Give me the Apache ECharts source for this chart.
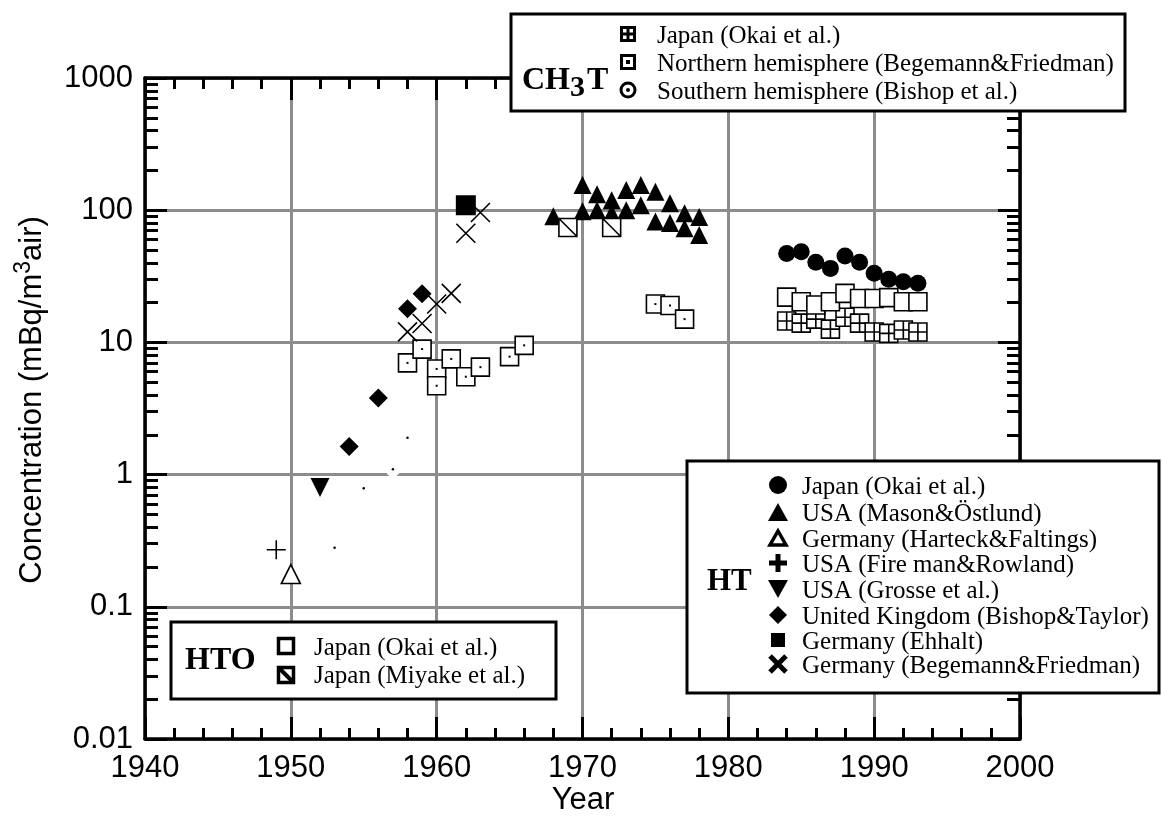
<!DOCTYPE html>
<html><head><meta charset="utf-8">
<script src="https://cdn.jsdelivr.net/npm/echarts@6/dist/echarts.min.js"></script>
<style>html,body{margin:0;padding:0;background:#fff}#c{width:1162px;height:823px}</style>
</head><body><div id="c"></div>
<script>
// ---- data (year, mBq/m3 air) ----
const yTickLabels = ['0.01', '0.1', '1', '10', '100', '1000'];
const ch3tJapanOkai = [[1984,14.5],[1985,14],[1986,15],[1987,12.6],[1988,15.5],[1989,14],[1990,12],[1991,11.7],[1992,12.4],[1993,12]];
const ch3tNorthern = [[1958,7.0],[1959,8.9],[1960,6.3],[1960,4.7],[1961,7.5],[1962,5.5],[1963,6.5],[1965,7.8],[1966,9.5],[1975,19.5],[1976,19],[1977,15]];
const ch3tSouthern = [[1953,0.28],[1955,0.79],[1957,1.1],[1958,1.9]];
const htoJapanOkai = [[1984,22],[1985,20.3],[1986,19.2],[1987,20.3],[1988,23.5],[1989,21.5],[1990,21.5],[1991,21.8],[1992,20.3],[1993,20.3]];
const htoJapanMiyake = [[1969,74],[1972,74]];
const htJapanOkai = [[1984,47],[1985,48.5],[1986,40.4],[1987,36.3],[1988,45],[1989,40.4],[1990,33.4],[1991,30],[1992,28.8],[1993,28]];
const htUsaMason = [[1968,90],[1970,155],[1970,98],[1971,132],[1971,100],[1972,119],[1972,95],[1973,142],[1973,100],[1974,155],[1974,109],[1975,138],[1975,82],[1976,113],[1976,80],[1977,95],[1977,73],[1978,89],[1978,65]];
const htGermanyHarteck = [[1950,0.177]];
const htUsaFireman = [[1949,0.27]];
const htUsaGrosse = [[1952,0.8]];
const htUkBishop = [[1954,1.63],[1956,3.8],[1958,18],[1959,23.3]];
const htGermanyEhhalt = [[1962,109]];
const htGermanyBegemann = [[1958,12],[1959,13.9],[1960,19.5],[1961,23.5],[1962,67],[1963,96]];

const minorLog = [];
for (let k = -2; k <= 2; k++) for (let m = 2; m <= 9; m++) minorLog.push(Math.log10(m * Math.pow(10, k)));

const SANS = '"Liberation Sans", Arial, sans-serif';
const SERIF = '"Liberation Serif", "Times New Roman", serif';

const P_CROSSSQ = 'path://M0,0L20,0L20,20L0,20Z M10,0L10,20 M0,10L20,10';
const P_DIAGSQ = 'path://M0,0L20,0L20,20L0,20Z M0,0L20,20';
const P_X = 'path://M0,0L20,20 M20,0L0,20';
const P_PLUS = 'path://M10,0L10,20 M0,10L20,10';

const tickStyle = {color: '#000', width: 3};
const gridStyle = {color: '#8c8c8c', width: 3};

function xAx(pos, labels) {
  return {
    type: 'value', position: pos, min: 1940, max: 2000, interval: 10,
    axisLine: {show: true, onZero: false, lineStyle: {color: '#000', width: 3.5}},
    axisTick: {show: true, inside: true, length: 22, lineStyle: tickStyle},
    minorTick: {show: true, splitNumber: 5, length: 11, lineStyle: tickStyle},
    axisLabel: {show: labels, fontFamily: SANS, fontSize: 31, color: '#000', margin: 14, formatter: v => String(v)},
    splitLine: {show: labels, lineStyle: gridStyle},
    minorSplitLine: {show: false}
  };
}
function yLog(pos, labels) {
  return {
    type: 'log', logBase: 10, position: pos, min: 0.01, max: 1000,
    axisLine: {show: true, onZero: false, lineStyle: {color: '#000', width: 3.5}},
    axisTick: {show: true, inside: true, length: 22, lineStyle: tickStyle},
    axisLabel: {show: labels, fontFamily: SANS, fontSize: 31, color: '#000', margin: 12,
      formatter: v => { const i = Math.round(Math.log10(v)) + 2; return yTickLabels[i] || ''; }},
    splitLine: {show: labels, lineStyle: gridStyle}
  };
}
function yMinor(pos) {
  return {
    type: 'value', position: pos, min: -2, max: 3,
    axisLine: {show: false, onZero: false},
    axisTick: {show: true, inside: true, length: 13, lineStyle: tickStyle, customValues: minorLog},
    axisLabel: {show: false}, splitLine: {show: false}
  };
}

const series = [
  {name: 'south-bg', type: 'scatter', data: ch3tSouthern, symbol: 'circle', symbolSize: 15, itemStyle: {color: '#fff', borderWidth: 0}},
  {name: 'south-dot', type: 'scatter', data: ch3tSouthern, symbol: 'circle', symbolSize: 2.5, itemStyle: {color: '#000'}},
  {name: 'ch3tJapan', type: 'scatter', data: ch3tJapanOkai, symbol: P_CROSSSQ, symbolSize: 18, itemStyle: {color: '#fff', borderColor: '#000', borderWidth: 1.6}},
  {name: 'htoOkai', type: 'scatter', data: htoJapanOkai, symbol: 'rect', symbolSize: 18, itemStyle: {color: '#fff', borderColor: '#000', borderWidth: 1.6}},
  {name: 'north', type: 'scatter', data: ch3tNorthern, symbol: 'rect', symbolSize: 18, itemStyle: {color: '#fff', borderColor: '#000', borderWidth: 1.6}},
  {name: 'north-dot', type: 'scatter', data: ch3tNorthern, symbol: 'rect', symbolSize: 2, itemStyle: {color: '#000'}},
  {name: 'htJapan', type: 'scatter', data: htJapanOkai, symbol: 'circle', symbolSize: 17, itemStyle: {color: '#000'}},
  {name: 'mason', type: 'scatter', data: htUsaMason, symbol: 'triangle', symbolSize: 18, itemStyle: {color: '#000'}},
  {name: 'miyake', type: 'scatter', data: htoJapanMiyake, symbol: P_DIAGSQ, symbolSize: 18, itemStyle: {color: '#fff', borderColor: '#000', borderWidth: 1.6}},
  {name: 'harteck', type: 'scatter', data: htGermanyHarteck, symbol: 'triangle', symbolSize: 19, itemStyle: {color: '#fff', borderColor: '#000', borderWidth: 1.6}},
  {name: 'fireman', type: 'scatter', data: htUsaFireman, symbol: P_PLUS, symbolSize: 19, itemStyle: {color: 'rgba(0,0,0,0)', borderColor: '#000', borderWidth: 1.6}},
  {name: 'grosse', type: 'scatter', data: htUsaGrosse, symbol: 'triangle', symbolRotate: 180, symbolSize: 19, itemStyle: {color: '#000'}},
  {name: 'uk', type: 'scatter', data: htUkBishop, symbol: 'diamond', symbolSize: 19, itemStyle: {color: '#000'}},
  {name: 'ehhalt', type: 'scatter', data: htGermanyEhhalt, symbol: 'rect', symbolSize: 20, itemStyle: {color: '#000'}},
  {name: 'begemann', type: 'scatter', data: htGermanyBegemann, symbol: P_X, symbolSize: 19, itemStyle: {color: 'rgba(0,0,0,0)', borderColor: '#000', borderWidth: 1.6}}
].map(s => {
  s.itemStyle.opacity = 1;
  return Object.assign({xAxisIndex: 0, yAxisIndex: 0, silent: true, animation: false, emphasis: {disabled: true}}, s);
});

// ---- legend graphics ----
const G = [];
const Z = 100;
function box(x, y, w, h) { G.push({type: 'rect', z: Z, shape: {x, y, width: w, height: h}, style: {fill: '#fff', stroke: '#000', lineWidth: 3}}); }
function txt(x, y, t, size, bold) { G.push({type: 'text', z: Z + 1, style: {x, y, text: t, fontFamily: SERIF, fontSize: size, fontWeight: bold ? 'bold' : 'normal', fill: '#000', verticalAlign: 'middle', align: 'left'}}); }
function line(x1, y1, x2, y2, w) { G.push({type: 'line', z: Z + 1, shape: {x1, y1, x2, y2}, style: {stroke: '#000', lineWidth: w}}); }
function rectI(cx, cy, s, fill, lw) { G.push({type: 'rect', z: Z + 1, shape: {x: cx - s / 2, y: cy - s / 2, width: s, height: s}, style: {fill: fill, stroke: lw ? '#000' : null, lineWidth: lw || 0}}); }
function circ(cx, cy, r, fill, lw) { G.push({type: 'circle', z: Z + 1, shape: {cx, cy, r}, style: {fill: fill, stroke: lw ? '#000' : null, lineWidth: lw || 0}}); }
function poly(pts, fill, lw) { G.push({type: 'polygon', z: Z + 1, shape: {points: pts}, style: {fill: fill, stroke: lw ? '#000' : null, lineWidth: lw || 0, lineJoin: 'miter'}}); }

// CH3T box
box(511, 14, 614, 97);
txt(522, 81, 'CH', 32, true);
txt(570, 88, '3', 30, true);
txt(587, 81, 'T', 32, true);
rectI(628, 34, 13, '#fff', 3); line(628, 28, 628, 40, 3); line(622, 34, 634, 34, 3);
rectI(628, 62, 13, '#fff', 3); rectI(628, 62, 4, '#000', 0);
circ(628, 90, 7, '#fff', 3); circ(628, 90, 2, '#000', 0);
txt(657, 36, 'Japan (Okai et al.)', 25);
txt(657, 64, 'Northern hemisphere (Begemann&Friedman)', 25);
txt(657, 92, 'Southern hemisphere (Bishop et al.)', 25);

// HT box
box(687, 461, 472, 232);
txt(707, 582, 'HT', 31, true);
const hx = 778;
const hy = [485, 512, 538, 563, 589, 615, 640, 664];
circ(hx, hy[0], 9, '#000', 0);
poly([[hx - 10, hy[1] + 9], [hx + 10, hy[1] + 9], [hx, hy[1] - 9]], '#000', 0);
poly([[hx - 8, hy[2] + 7], [hx + 8, hy[2] + 7], [hx, hy[2] - 7]], '#fff', 3.5);
line(hx - 9, hy[3], hx + 9, hy[3], 5); line(hx, hy[3] - 9, hx, hy[3] + 9, 5);
poly([[hx - 10, hy[4] - 9], [hx + 10, hy[4] - 9], [hx, hy[4] + 9]], '#000', 0);
poly([[hx - 9, hy[5]], [hx, hy[5] - 9], [hx + 9, hy[5]], [hx, hy[5] + 9]], '#000', 0);
rectI(hx, hy[6], 14, '#000', 0);
line(hx - 8, hy[7] - 8, hx + 8, hy[7] + 8, 5); line(hx - 8, hy[7] + 8, hx + 8, hy[7] - 8, 5);
const htNames = ['Japan (Okai et al.)', 'USA (Mason&Östlund)', 'Germany (Harteck&Faltings)', 'USA (Fire man&Rowland)', 'USA (Grosse et al.)', 'United Kingdom (Bishop&Taylor)', 'Germany (Ehhalt)', 'Germany (Begemann&Friedman)'];
htNames.forEach((n, i) => txt(802, hy[i] + 2, n, 25));

// HTO box
box(171, 622, 385, 77);
txt(185, 661, 'HTO', 32, true);
rectI(286, 646, 15, '#fff', 3.5);
rectI(286, 675, 15, '#fff', 3.5); line(279, 668, 293, 682, 4);
txt(314, 648, 'Japan (Okai et al.)', 25);
txt(314, 676, 'Japan (Miyake et al.)', 25);

// axis titles
G.push({type: 'text', z: Z, rotation: Math.PI / 2, x: 30, y: 400,
  style: {text: '{n|Concentration (mBq/m}{s|3}{n|air)}', align: 'center', verticalAlign: 'middle',
    rich: {n: {fontFamily: SANS, fontSize: 31, fill: '#000', lineHeight: 36, verticalAlign: 'bottom'},
           s: {fontFamily: SANS, fontSize: 23, fill: '#000', lineHeight: 36, verticalAlign: 'top'}}}});
G.push({type: 'text', z: Z, x: 583, y: 800, style: {text: 'Year', fontFamily: SANS, fontSize: 31, fill: '#000', align: 'center', verticalAlign: 'middle'}});

const chart = echarts.init(document.getElementById('c'), null, {renderer: 'canvas'});
chart.setOption({
  animation: false,
  backgroundColor: '#fff',
  grid: {left: 145, right: 142, top: 78, bottom: 84, containLabel: false},
  xAxis: [xAx('bottom', true), xAx('top', false)],
  yAxis: [yLog('left', true), yLog('right', false), yMinor('left'), yMinor('right')],
  series: series,
  graphic: G
});
</script>
</body></html>
